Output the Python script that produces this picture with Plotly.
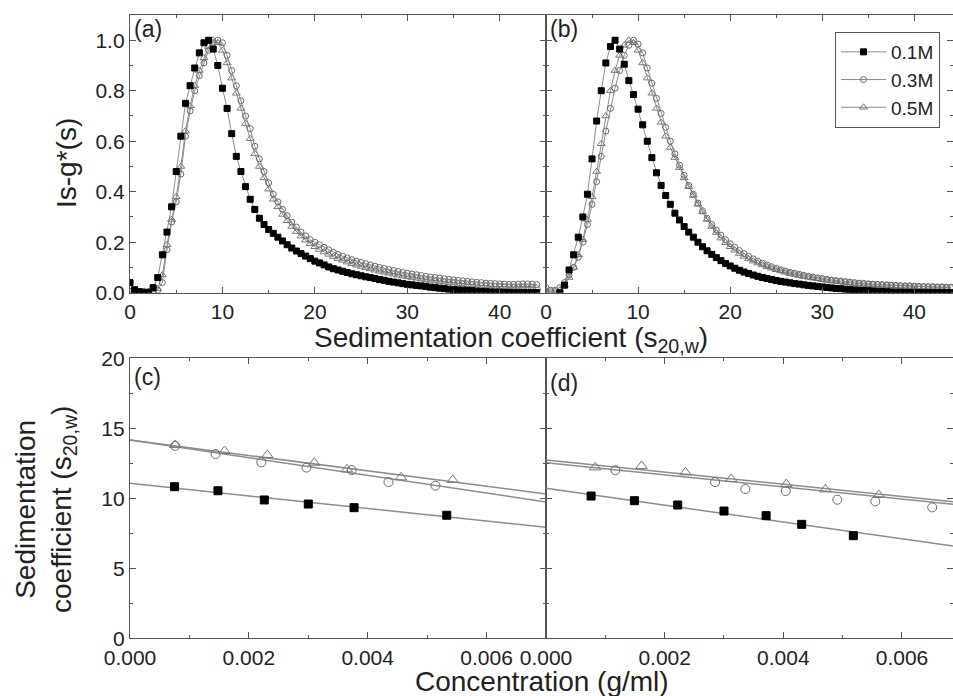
import plotly.graph_objects as go

# ---------------- data ----------------
S_GRID = [0.0, 0.5, 1.0, 1.5, 2.0, 2.5, 3.0, 3.5, 4.0, 4.5,
          5.0, 5.5, 6.0, 6.5, 7.0, 7.5, 8.0, 8.5, 9.0, 9.5,
          10.0, 10.5, 11.0, 11.5, 12.0, 12.5, 13.0, 13.5, 14.0, 14.5,
          15.0, 15.5, 16.0, 16.5, 17.0, 17.5, 18.0, 18.5, 19.0, 19.5,
          20.0, 20.5, 21.0, 21.5, 22.0, 22.5, 23.0, 23.5, 24.0, 24.5,
          25.0, 25.5, 26.0, 26.5, 27.0, 27.5, 28.0, 28.5, 29.0, 29.5,
          30.0, 30.5, 31.0, 31.5, 32.0, 32.5, 33.0, 33.5, 34.0, 34.5,
          35.0, 35.5, 36.0, 36.5, 37.0, 37.5, 38.0, 38.5, 39.0, 39.5,
          40.0, 40.5, 41.0, 41.5, 42.0, 42.5, 43.0, 43.5, 44.0]

# panel (a)
A_01 = [0.040, 0.012, 0.004, 0.000, 0.000, 0.020, 0.060, 0.150, 0.240, 0.340,
        0.480, 0.620, 0.750, 0.820, 0.890, 0.950, 0.990, 1.000, 0.965, 0.900,
        0.810, 0.730, 0.630, 0.540, 0.480, 0.420, 0.370, 0.330, 0.295, 0.270,
        0.250, 0.235, 0.220, 0.205, 0.190, 0.177, 0.165, 0.155, 0.145, 0.135,
        0.125, 0.118, 0.110, 0.102, 0.095, 0.090, 0.085, 0.080, 0.075, 0.071,
        0.067, 0.063, 0.060, 0.056, 0.052, 0.049, 0.045, 0.042, 0.039, 0.036,
        0.033, 0.031, 0.029, 0.027, 0.025, 0.022, 0.020, 0.018, 0.016, 0.014,
        0.012, 0.011, 0.010, 0.009, 0.008, 0.006, 0.005, 0.004, 0.003, 0.002,
        0.002, 0.001, 0.001, 0.000, 0.000, 0.000, 0.000, 0.000, 0.000]
A_03 = [0.005, 0.005, 0.005, 0.005, 0.005, 0.005, 0.010, 0.040, 0.170, 0.280,
        0.360, 0.470, 0.620, 0.720, 0.800, 0.860, 0.910, 0.960, 0.990, 1.000,
        0.990, 0.940, 0.880, 0.820, 0.760, 0.700, 0.650, 0.580, 0.530, 0.480,
        0.435, 0.390, 0.360, 0.330, 0.305, 0.280, 0.260, 0.240, 0.225, 0.210,
        0.200, 0.190, 0.180, 0.170, 0.160, 0.152, 0.145, 0.138, 0.131, 0.125,
        0.120, 0.115, 0.110, 0.105, 0.100, 0.096, 0.092, 0.088, 0.084, 0.080,
        0.077, 0.074, 0.071, 0.068, 0.065, 0.062, 0.060, 0.058, 0.055, 0.053,
        0.051, 0.049, 0.047, 0.045, 0.043, 0.041, 0.040, 0.038, 0.037, 0.036,
        0.035, 0.034, 0.033, 0.033, 0.034, 0.035, 0.035, 0.034, 0.032]
A_05 = [0.005, 0.005, 0.005, 0.005, 0.005, 0.005, 0.015, 0.070, 0.190, 0.290,
        0.380, 0.500, 0.640, 0.740, 0.820, 0.880, 0.930, 0.975, 1.000, 0.990,
        0.960, 0.910, 0.850, 0.790, 0.730, 0.670, 0.610, 0.550, 0.500, 0.455,
        0.410, 0.370, 0.340, 0.310, 0.285, 0.262, 0.242, 0.224, 0.208, 0.194,
        0.182, 0.171, 0.161, 0.152, 0.143, 0.135, 0.128, 0.121, 0.115, 0.109,
        0.104, 0.099, 0.094, 0.089, 0.085, 0.081, 0.077, 0.073, 0.069, 0.066,
        0.063, 0.060, 0.057, 0.054, 0.051, 0.049, 0.046, 0.044, 0.042, 0.040,
        0.038, 0.036, 0.034, 0.032, 0.031, 0.029, 0.028, 0.027, 0.026, 0.025,
        0.024, 0.023, 0.022, 0.022, 0.021, 0.021, 0.020, 0.020, 0.020]

# panel (b)
B_01 = [None, None, None, 0.000, 0.030, 0.090, 0.150, 0.220, 0.300, 0.390,
        0.530, 0.680, 0.800, 0.910, 0.975, 1.000, 0.965, 0.905, 0.840, 0.785,
        0.727, 0.665, 0.600, 0.535, 0.475, 0.425, 0.385, 0.350, 0.315, 0.288,
        0.262, 0.240, 0.220, 0.200, 0.182, 0.166, 0.152, 0.139, 0.127, 0.116,
        0.106, 0.097, 0.089, 0.082, 0.076, 0.070, 0.065, 0.060, 0.056, 0.052,
        0.048, 0.045, 0.042, 0.039, 0.036, 0.034, 0.031, 0.029, 0.027, 0.025,
        0.023, 0.021, 0.019, 0.017, 0.016, 0.014, 0.013, 0.011, 0.010, 0.009,
        0.008, 0.007, 0.006, 0.005, 0.004, 0.003, 0.002, 0.002, 0.001, 0.001,
        0.000, 0.000, 0.000, 0.000, 0.000, 0.000, 0.000, 0.000, 0.000]
B_03 = [0.020, 0.010, 0.010, 0.020, 0.040, 0.070, 0.100, 0.140, 0.200, 0.270,
        0.350, 0.440, 0.540, 0.640, 0.730, 0.810, 0.880, 0.940, 0.980, 1.000,
        0.985, 0.950, 0.890, 0.830, 0.770, 0.710, 0.655, 0.600, 0.550, 0.505,
        0.465, 0.425, 0.390, 0.355, 0.325, 0.295, 0.270, 0.248, 0.228, 0.210,
        0.194, 0.180, 0.167, 0.155, 0.144, 0.134, 0.125, 0.117, 0.110, 0.103,
        0.097, 0.091, 0.086, 0.081, 0.077, 0.073, 0.069, 0.065, 0.062, 0.059,
        0.056, 0.053, 0.050, 0.048, 0.046, 0.044, 0.042, 0.040, 0.038, 0.037,
        0.035, 0.034, 0.033, 0.032, 0.031, 0.030, 0.029, 0.028, 0.027, 0.027,
        0.026, 0.025, 0.025, 0.024, 0.024, 0.023, 0.023, 0.022, 0.022]
B_05 = [0.010, 0.005, 0.005, 0.010, 0.030, 0.060, 0.100, 0.150, 0.210, 0.290,
        0.380, 0.480, 0.590, 0.700, 0.800, 0.880, 0.940, 0.980, 1.000, 0.990,
        0.960, 0.910, 0.850, 0.790, 0.730, 0.675, 0.620, 0.575, 0.535, 0.495,
        0.455, 0.420, 0.385, 0.350, 0.320, 0.290, 0.262, 0.238, 0.216, 0.198,
        0.182, 0.168, 0.155, 0.144, 0.134, 0.125, 0.117, 0.110, 0.103, 0.097,
        0.091, 0.086, 0.081, 0.076, 0.072, 0.068, 0.064, 0.061, 0.058, 0.055,
        0.052, 0.049, 0.047, 0.045, 0.043, 0.041, 0.039, 0.037, 0.036, 0.034,
        0.033, 0.032, 0.031, 0.030, 0.029, 0.028, 0.027, 0.026, 0.025, 0.025,
        0.024, 0.023, 0.023, 0.022, 0.022, 0.021, 0.021, 0.020, 0.020]

# panel (c): concentration (g/ml) vs s20,w
C_X_01 = [0.00075, 0.00148, 0.00226, 0.00300, 0.00377, 0.00533]
C_Y_01 = [10.83, 10.54, 9.88, 9.59, 9.33, 8.79]
C_X_03 = [0.00076, 0.00144, 0.00221, 0.00297, 0.00373, 0.00435, 0.00514]
C_Y_03 = [13.74, 13.16, 12.57, 12.19, 12.02, 11.16, 10.90]
C_X_05 = [0.00076, 0.00159, 0.00231, 0.00310, 0.00365, 0.00456, 0.00543]
C_Y_05 = [13.81, 13.38, 13.09, 12.54, 12.07, 11.50, 11.31]
C_FIT_INTERCEPT = [11.07, 14.16, 14.16]
C_FIT_SLOPE = [-449.0, -631.0, -550.0]

# panel (d)
D_X_01 = [0.00076, 0.00149, 0.00222, 0.00300, 0.00371, 0.00431, 0.00518]
D_Y_01 = [10.16, 9.83, 9.52, 9.09, 8.76, 8.14, 7.33]
D_X_03 = [0.00117, 0.00285, 0.00336, 0.00404, 0.00491, 0.00555, 0.00651]
D_Y_03 = [12.00, 11.16, 10.66, 10.52, 9.90, 9.78, 9.35]
D_X_05 = [0.00083, 0.00161, 0.00235, 0.00312, 0.00405, 0.00471, 0.00561]
D_Y_05 = [12.21, 12.31, 11.86, 11.38, 11.02, 10.64, 10.24]
D_FIT_INTERCEPT = [10.71, 12.54, 12.74]
D_FIT_SLOPE = [-601.0, -431.0, -435.0]

SERIES_NAMES = ["0.1M", "0.3M", "0.5M"]

# ---------------- styling ----------------
FONT = "Arial, Liberation Sans, sans-serif"
AXC = "#555555"
LINEC = "#8c8c8c"
SYMBOLS = ["square", "circle-open", "triangle-up-open"]
MCOLORS = ["#000000", "#6a6a6a", "#7a7a7a"]
MSIZE_TOP = [6, 6, 7]
MSIZE_BOT = [8, 9, 10]

W, H = 953, 696
XA = [130 / W, 546 / W]
XB = [546 / W, 1.0]
YT = [(H - 292.7) / H, (H - 15) / H]
YB = [(H - 638.3) / H, (H - 358.3) / H]

fig = go.Figure()

top_sets = [("x", "y", [A_01, A_03, A_05], False), ("x2", "y2", [B_01, B_03, B_05], True)]
order = [2, 1, 0]  # draw 0.5M first so squares sit on top
for xa, ya, ys, leg in top_sets:
    for i in order:
        fig.add_trace(go.Scatter(
            x=S_GRID, y=ys[i], xaxis=xa, yaxis=ya, mode="lines+markers",
            name=SERIES_NAMES[i], showlegend=leg, legendrank=i + 1,
            line=dict(color=LINEC, width=1),
            marker=dict(symbol=SYMBOLS[i], size=MSIZE_TOP[i], color=MCOLORS[i],
                        line=dict(color=MCOLORS[i], width=1)),
            connectgaps=False,
        ))

bot_sets = [("x3", "y3", [(C_X_01, C_Y_01), (C_X_03, C_Y_03), (C_X_05, C_Y_05)],
             C_FIT_INTERCEPT, C_FIT_SLOPE, 0.007),
            ("x4", "y4", [(D_X_01, D_Y_01), (D_X_03, D_Y_03), (D_X_05, D_Y_05)],
             D_FIT_INTERCEPT, D_FIT_SLOPE, 0.00686)]
for xa, ya, pts, b0, b1, xmax in bot_sets:
    for i in range(3):
        fx = [0.0, xmax]
        fy = [b0[i] + b1[i] * v for v in fx]
        fig.add_trace(go.Scatter(x=fx, y=fy, xaxis=xa, yaxis=ya, mode="lines",
                                 showlegend=False, line=dict(color=LINEC, width=1.5)))
    for i in order:
        fig.add_trace(go.Scatter(
            x=pts[i][0], y=pts[i][1], xaxis=xa, yaxis=ya, mode="markers",
            showlegend=False,
            marker=dict(symbol=SYMBOLS[i], size=MSIZE_BOT[i], color=MCOLORS[i],
                        line=dict(color=MCOLORS[i], width=1)),
        ))


def axis(domain, rng, dtick, minor_dtick, anchor, labels=True, fmt=None):
    d = dict(domain=domain, range=rng, dtick=dtick, tick0=0, anchor=anchor,
             automargin=False,
             showline=True, linecolor=AXC, linewidth=1.3, mirror="allticks",
             ticks="inside", ticklen=6, tickwidth=1.1, tickcolor=AXC,
             showgrid=False, zeroline=False, showticklabels=labels,
             tickfont=dict(family=FONT, size=21, color="#222222"),
             minor=dict(dtick=minor_dtick, tick0=0, ticks="inside", ticklen=3,
                        tickcolor=AXC, showgrid=False))
    if fmt:
        d["tickformat"] = fmt
    return d


fig.update_layout(
    width=W, height=H, margin=dict(l=0, r=0, t=0, b=0, autoexpand=False),
    paper_bgcolor="white", plot_bgcolor="white",
    font=dict(family=FONT, color="#222222"),
    xaxis=axis(XA, [0, 45], 10, 5, "y"),
    yaxis=axis(YT, [0, 1.1], 0.2, 0.1, "x", fmt=".1f"),
    xaxis2=axis(XB, [0, 44.2], 10, 5, "y2"),
    yaxis2=axis(YT, [0, 1.1], 0.2, 0.1, "x2", labels=False),
    xaxis3=axis(XA, [0, 0.007], 0.002, 0.001, "y3", fmt=".3f"),
    yaxis3=axis(YB, [0, 20], 5, 2.5, "x3"),
    xaxis4=axis(XB, [0, 0.00686], 0.002, 0.001, "y4", fmt=".3f"),
    yaxis4=axis(YB, [0, 20], 5, 2.5, "x4", labels=False),
    legend=dict(x=835 / W, y=(H - 32) / H, xanchor="left", yanchor="top",
                bordercolor=AXC, borderwidth=1, bgcolor="white",
                font=dict(family=FONT, size=19, color="#222222"),
                tracegroupgap=0, itemwidth=45),
)

ann = []
def A(text, X, Y, size, xanchor="center", yanchor="middle", angle=0):
    ann.append(dict(text=text, x=X / W, y=(H - Y) / H, xref="paper", yref="paper",
                    xanchor=xanchor, yanchor=yanchor, textangle=angle, showarrow=False,
                    font=dict(family=FONT, size=size, color="#222222")))

A("(a)", 132, 29, 23, xanchor="left")
A("(b)", 548, 29, 23, xanchor="left")
A("(c)", 132, 377, 23, xanchor="left")
A("(d)", 548, 383, 23, xanchor="left")
A("Sedimentation coefficient (s<sub>20,w</sub>)", 511, 320, 28, yanchor="top")
A("Concentration (g/ml)", 542, 681, 28)
A("Is-g*(s)", 66, 163, 28, angle=-90)
A("Sedimentation<br>coefficient (s<sub>20,w</sub>)", 45, 510, 28, angle=-90)
fig.update_layout(annotations=ann)

fig.write_html("out.html", config={"displayModeBar": False},
               post_script="document.body.style.margin='0';document.body.style.overflow='hidden';")
